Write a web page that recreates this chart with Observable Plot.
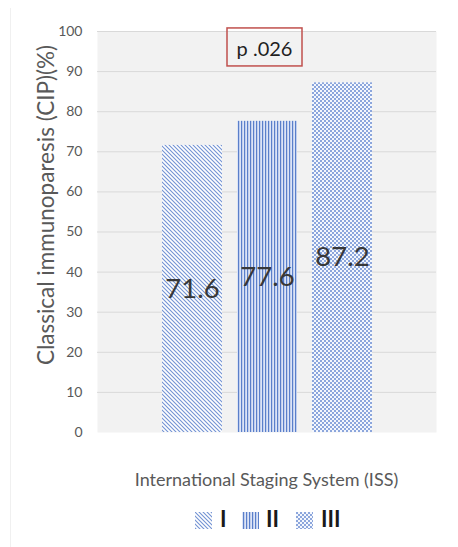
<!DOCTYPE html>
<html><head><meta charset="utf-8">
<script src="https://cdn.jsdelivr.net/npm/d3@7"></script>
<script src="https://cdn.jsdelivr.net/npm/@observablehq/plot@0.6"></script>
<style>
body{margin:0;background:#fff;font-family:Lato,"Open Sans",sans-serif;}
#wrap{position:relative;width:458px;height:547px;overflow:hidden;}
#edge{position:absolute;left:10px;top:8px;width:0;height:539px;border-left:1px solid #f0f0f0;}
#xtitle{position:absolute;left:97px;width:339px;top:469px;text-align:center;font-size:18px;color:#595959;line-height:20px;}
.lg{position:absolute;}
.lgt{position:absolute;top:508px;font-size:22px;line-height:22px;color:#1a1a1a;font-weight:bold;}
</style></head><body><div id="wrap"><div id="edge"></div></div>
<script>
const stages = ["I", "II", "III"];
const values = [71.6, 77.6, 87.2];
const yTicks = [0, 10, 20, 30, 40, 50, 60, 70, 80, 90, 100];
const pValue = ["p .026"];
const yTitle = "Classical immunoparesis (CIP)(%)";
const xTitle = "International Staging System (ISS)";

const data = stages.map((s, i) => ({stage: s, value: values[i]}));
const patId = s => "pat" + stages.indexOf(s);

const plot = Plot.plot({
  width: 458, height: 440,
  marginTop: 31, marginBottom: 8, marginLeft: 97, marginRight: 22,
  style: {fontFamily: "Lato, 'Open Sans', sans-serif", background: "transparent", overflow: "visible"},
  x: {domain: stages, paddingInner: 0.205, paddingOuter: 0.847, axis: null},
  y: {domain: [0, 100], axis: null},
  marks: [
    Plot.frame({fill: "#f2f2f2", stroke: "none"}),
    Plot.gridY(yTicks.filter(t => t > 0), {stroke: "#d9d9d9", strokeOpacity: 1, strokeWidth: 1}),
    Plot.axisY(yTicks, {tickSize: 0, tickPadding: 15, fontSize: 14, color: "#595959", label: null}),
    ...stages.map(s => Plot.barY(data.filter(d => d.stage === s), {x: "stage", y: "value", fill: `url(#${patId(s)})`})),
    Plot.text(data, {x: "stage", y: d => d.value / 2, text: d => d.value.toFixed(1), fontSize: 27.5, fill: "#383838"}),
    Plot.text(pValue, {x: () => "II", y: () => 95.5, dx: -3, text: d => d, fontSize: 20, fill: "#1f1f1f", className: "pval"})
  ]
});

const wrap = document.getElementById("wrap");
plot.style.position = "absolute";
plot.style.left = "0px";
plot.style.top = "0px";
wrap.appendChild(plot);

// patterns
const svg = d3.select(plot);
const defs = svg.insert("defs", ":first-child");
// I: diagonal stripes
const p0 = defs.append("pattern").attr("id", "pat0").attr("patternUnits", "userSpaceOnUse").attr("width", 4).attr("height", 4);
p0.append("rect").attr("width", 4).attr("height", 4).attr("fill", "#ffffff");
p0.append("path").attr("d", "M0,0L4,4M-1,3L1,5M3,-1L5,1").attr("stroke", "#7393d3").attr("stroke-width", 1.1);
// II: vertical lines
const p1 = defs.append("pattern").attr("id", "pat1").attr("patternUnits", "userSpaceOnUse").attr("width", 3).attr("height", 4);
p1.append("rect").attr("width", 3).attr("height", 4).attr("fill", "#dce4f6");
p1.append("rect").attr("x", 1).attr("width", 1.2).attr("height", 4).attr("fill", "#5a7fca");
// III: small checker
const p2 = defs.append("pattern").attr("id", "pat2").attr("patternUnits", "userSpaceOnUse").attr("width", 4).attr("height", 4);
p2.append("rect").attr("width", 4).attr("height", 4).attr("fill", "#f4f7fd");
p2.append("rect").attr("width", 2).attr("height", 2).attr("fill", "#8ca6dc");
p2.append("rect").attr("x", 2).attr("y", 2).attr("width", 2).attr("height", 2).attr("fill", "#8ca6dc");

// y title
svg.append("text").attr("transform", "translate(54,205) rotate(-90)")
  .attr("text-anchor", "middle").attr("font-size", 22.5).attr("fill", "#595959").text(yTitle);

// p value box
const pt = plot.querySelector(".pval text");
if (pt) {
  const bb = pt.getBBox();
  const cx = bb.x + bb.width / 2, cy = bb.y + bb.height / 2;
  d3.select(pt.parentNode).insert("rect", ":first-child")
    .attr("transform", pt.getAttribute("transform"))
    .attr("x", cx - 37.5).attr("y", cy - 20).attr("width", 75).attr("height", 38)
    .attr("fill", "none").attr("stroke", "#c0504d").attr("stroke-width", 1.5);
}

// x title
const xt = document.createElement("div");
xt.id = "xtitle";
xt.textContent = xTitle;
wrap.appendChild(xt);

// legend
const swX = [195, 242, 296];
const txX = [220, 266, 321];
stages.forEach((s, i) => {
  const sw = document.createElementNS("http://www.w3.org/2000/svg", "svg");
  sw.setAttribute("width", 17); sw.setAttribute("height", 17);
  sw.setAttribute("class", "lg");
  sw.style.left = swX[i] + "px"; sw.style.top = "512px";
  const r = document.createElementNS("http://www.w3.org/2000/svg", "rect");
  r.setAttribute("width", 17); r.setAttribute("height", 17);
  r.setAttribute("fill", `url(#${patId(s)})`);
  sw.appendChild(r);
  wrap.appendChild(sw);
  const t = document.createElement("div");
  t.className = "lgt";
  t.style.left = txX[i] + "px";
  t.textContent = s;
  wrap.appendChild(t);
});
</script></body></html>
